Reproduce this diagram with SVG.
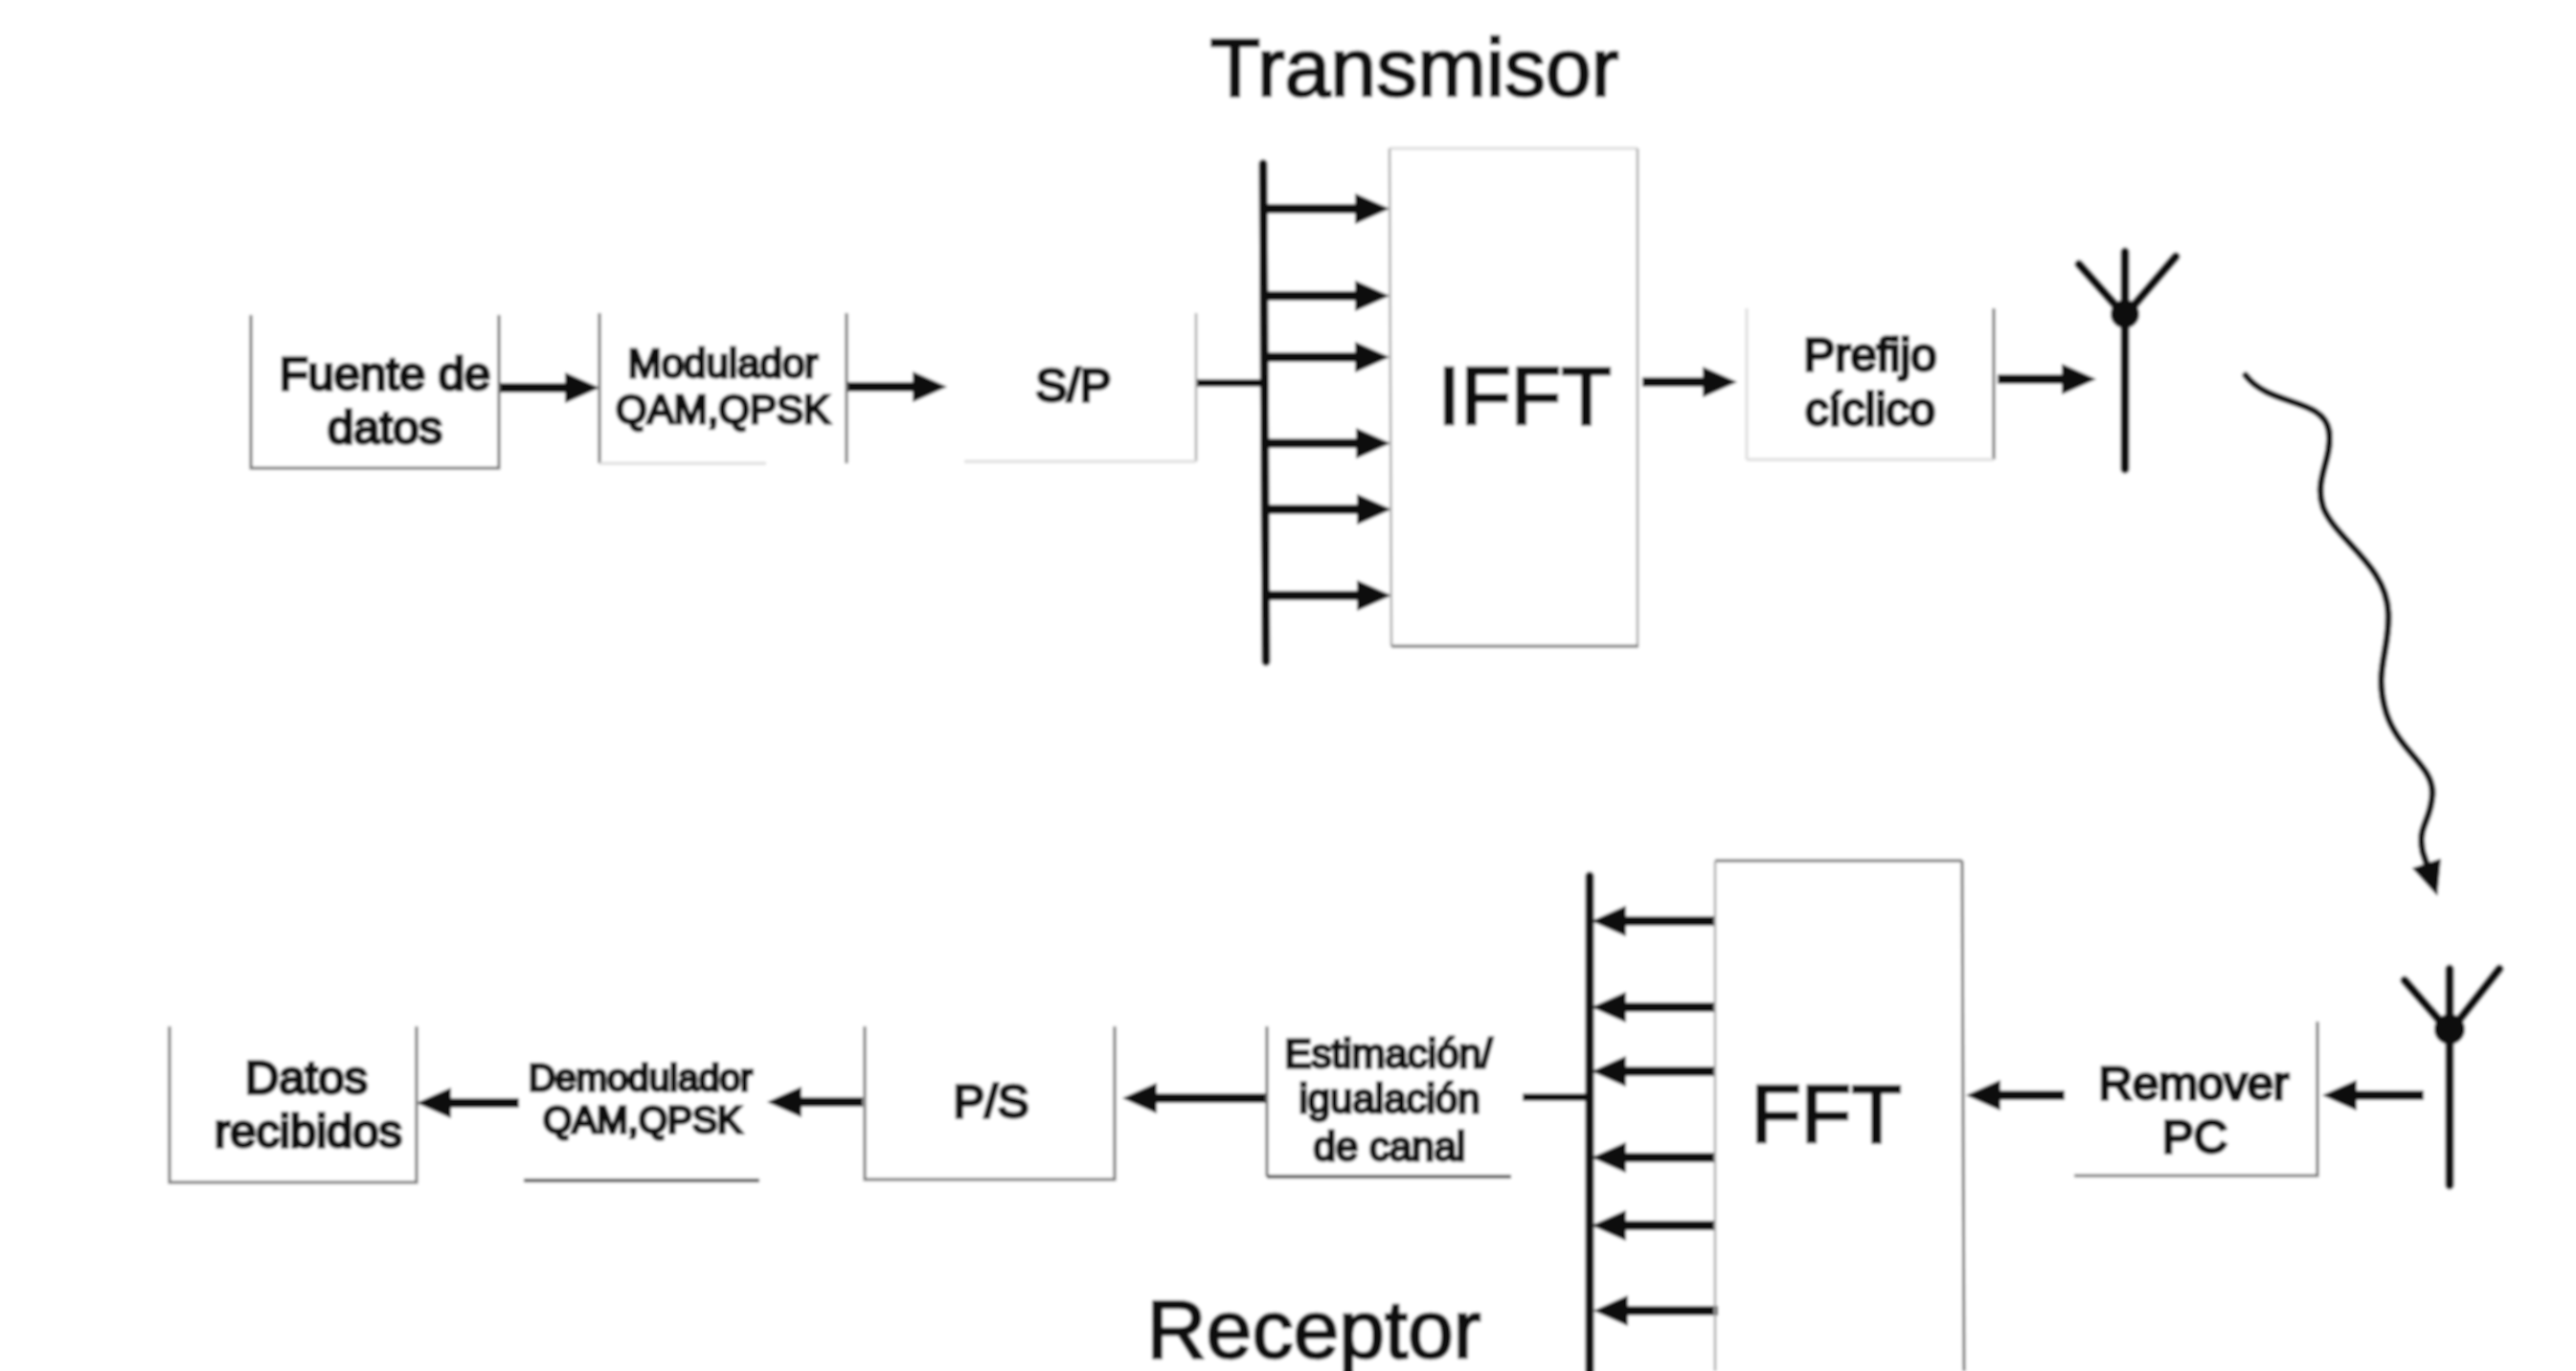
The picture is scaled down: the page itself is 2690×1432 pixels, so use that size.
<svg xmlns="http://www.w3.org/2000/svg" width="2690" height="1432" viewBox="0 0 2690 1432">
  <style>
    text { font-family: "Liberation Sans", Arial, sans-serif; fill: #0a0a0a; text-anchor: middle; }
    .title { font-size: 86px; stroke: #0a0a0a; stroke-width: 2.6px; }
    .big { font-size: 86px; stroke: #0a0a0a; stroke-width: 2.6px; }
    .lbl { font-size: 49px; stroke: #0a0a0a; stroke-width: 3.4px; }
    .sm { font-size: 42px; stroke: #0a0a0a; stroke-width: 3.2px; }
    .xs { font-size: 39px; stroke: #0a0a0a; stroke-width: 3.4px; }
    .edge { fill: none; stroke: #707070; stroke-width: 3px; }
    .faint { fill: none; stroke: #dcdcdc; stroke-width: 3px; }
    .thin { fill: none; stroke: #a8a8a8; stroke-width: 2.5px; }
    .dark { fill: none; stroke: #555; stroke-width: 4px; }
    .wire { fill: none; stroke: #0a0a0a; stroke-width: 8px; }
    .arrow { fill: none; stroke: #0a0a0a; stroke-width: 10px; marker-end: url(#head); }
    .bus { fill: none; stroke: #0a0a0a; stroke-width: 9px; stroke-linecap: round; }
    .ant { fill: none; stroke: #0a0a0a; stroke-width: 9px; stroke-linecap: round; }
    .wave { fill: none; stroke: #0a0a0a; stroke-width: 7px; stroke-linecap: round; marker-end: url(#head); }
  </style>
  <defs>
    <marker id="head" markerUnits="userSpaceOnUse" markerWidth="40" markerHeight="34" refX="10" refY="16" orient="auto">
      <path d="M0,0 L36,16 L0,32 Z" fill="#0a0a0a"/>
    </marker>
    <filter id="soft" x="0" y="0" width="100%" height="100%" filterUnits="objectBoundingBox">
      <feGaussianBlur stdDeviation="1.8"/>
    </filter>
  </defs>
  <rect width="2690" height="1432" fill="#ffffff"/>
  <g filter="url(#soft)">
    <rect width="2690" height="1432" fill="#ffffff"/>
    <text id="title-tx" class="title" x="1477" y="100">Transmisor</text>
    <text id="title-rx" class="title" x="1372" y="1418">Receptor</text>

    <g id="connectors">
      <path class="arrow" d="M521,405 H600"/>
      <path class="arrow" d="M884,404 H963"/>
      <path class="wire" d="M1249,400 H1318"/>
      <path class="bus" d="M1319,171 L1322,691"/>
      <path class="arrow" d="M1320,218 H1425"/>
      <path class="arrow" d="M1320,309 H1425"/>
      <path class="arrow" d="M1320,373 H1425"/>
      <path class="arrow" d="M1320,463 H1426"/>
      <path class="arrow" d="M1320,532 H1427"/>
      <path class="arrow" d="M1320,622 H1427"/>
      <path class="arrow" d="M1715,399 H1788"/>
      <path class="arrow" d="M2086,396 H2163"/>
      <path class="wave" d="M2345,392 C2370,425 2426,415 2432,450 C2436,480 2416,500 2426,530 C2440,565 2492,590 2494,640 C2496,680 2478,700 2492,745 C2505,785 2542,800 2540,830 C2538,860 2524,862 2530,890 L2537,911"/>
      <path class="arrow" d="M2531,1144 H2451"/>
      <path class="arrow" d="M2156,1144 H2079"/>
      <path class="bus" d="M1660,915 V1432"/>
      <path class="arrow" d="M1791,962 H1688"/>
      <path class="arrow" d="M1791,1052 H1688"/>
      <path class="arrow" d="M1791,1119 H1688"/>
      <path class="arrow" d="M1791,1209 H1688"/>
      <path class="arrow" d="M1791,1280 H1688"/>
      <path class="arrow" d="M1794,1369 H1690"/>
      <path class="wire" d="M1590,1146 H1660"/>
      <path class="arrow" d="M1322,1147 H1198"/>
      <path class="arrow" d="M901,1151 H827"/>
      <path class="arrow" d="M542,1152 H461"/>
    </g>

    <g id="node-fuente">
      <path class="edge" d="M262,329 V489 H521 V329"/>
      <text class="lbl" x="402" y="407">Fuente de</text>
      <text class="lbl" x="402" y="463">datos</text>
    </g>
    <g id="node-modulador">
      <path class="edge" d="M626,327 V484 M884,327 V484"/>
      <path class="faint" d="M626,484 H800"/>
      <text class="sm" x="755" y="394">Modulador</text>
      <text class="sm" x="755" y="442">QAM,QPSK</text>
    </g>
    <g id="node-sp">
      <path class="thin" d="M1249,327 V482"/>
      <path class="faint" d="M1007,482 H1249"/>
      <text class="lbl" x="1121" y="419">S/P</text>
    </g>
    <g id="node-ifft">
      <path class="faint" d="M1451,155 H1710"/>
      <path class="thin" d="M1451,155 L1453,675 M1710,155 V675"/>
      <path class="edge" d="M1453,675 H1711"/>
      <text class="big" x="1592" y="443">IFFT</text>
    </g>
    <g id="node-prefijo">
      <path class="faint" d="M1824,322 V480"/>
      <path class="edge" d="M2082,322 V480"/>
      <path class="faint" d="M1824,480 H2082"/>
      <text class="lbl" x="1953" y="387">Prefijo</text>
      <text class="lbl" x="1953" y="444">cíclico</text>
    </g>
    <g id="node-antena-tx">
      <path class="ant" d="M2219,263 V490 M2171,276 L2219,330 L2272,268"/>
      <circle cx="2219" cy="328" r="15" fill="#0a0a0a"/>
    </g>

    <g id="node-antena-rx">
      <path class="ant" d="M2558,1012 V1238 M2511,1024 L2558,1078 L2610,1012"/>
      <circle cx="2558" cy="1075" r="16" fill="#0a0a0a"/>
    </g>
    <g id="node-remover">
      <path class="edge" d="M2166,1228 H2420 V1067"/>
      <text class="lbl" x="2291" y="1148">Remover</text>
      <text class="lbl" x="2292" y="1204">PC</text>
    </g>
    <g id="node-fft">
      <path class="edge" d="M1791,899 H2049"/>
      <path class="thin" d="M1791,899 V1432"/>
      <path class="edge" d="M2049,899 L2051,1432"/>
      <text class="big" x="1907" y="1193">FFT</text>
    </g>
    <g id="node-estimacion">
      <path class="edge" d="M1323,1072 V1229"/>
      <path class="dark" d="M1323,1229 H1578"/>
      <text class="sm" x="1450" y="1115">Estimación/</text>
      <text class="sm" x="1451" y="1162">igualación</text>
      <text class="sm" x="1451" y="1212">de canal</text>
    </g>
    <g id="node-ps">
      <path class="edge" d="M903,1072 V1232 H1164 V1072"/>
      <text class="lbl" x="1035" y="1167">P/S</text>
    </g>
    <g id="node-demodulador">
      <path class="dark" d="M547,1233 H793"/>
      <text class="xs" x="669" y="1139">Demodulador</text>
      <text class="xs" x="671" y="1183">QAM,QPSK</text>
    </g>
    <g id="node-datos">
      <path class="edge" d="M177,1072 V1235 H435 V1072"/>
      <text class="lbl" x="320" y="1142">Datos</text>
      <text class="lbl" x="322" y="1198">recibidos</text>
    </g>
  </g>
</svg>
